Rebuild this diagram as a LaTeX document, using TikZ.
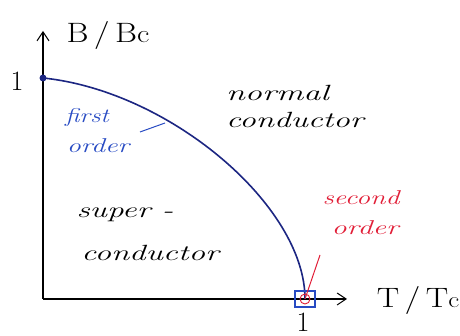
\documentclass[tikz,border=0pt]{standalone}
\usetikzlibrary{arrows.meta,calc}
\definecolor{curveblue}{RGB}{28,38,130}
\definecolor{penblue}{RGB}{40,75,195}
\definecolor{penred}{RGB}{225,30,55}
\tikzset{
  axis/.style={line width=1.1pt, -{Straight Barb[length=9pt,width=12pt,line width=1pt]}},
  hand/.style={font=\fontsize{22}{24}\selectfont\itshape, inner sep=0pt},
  print/.style={font=\fontsize{28}{30}\selectfont, inner sep=0pt},
  bluetxt/.style={hand, text=penblue, font=\fontsize{20}{22}\selectfont\itshape},
  redtxt/.style={hand, text=penred, font=\fontsize{20}{22}\selectfont\itshape},
}
\begin{document}
\begin{tikzpicture}[x=1pt,y=1pt]
\useasboundingbox (0,0) rectangle (460,336);
\coordinate (O) at (43,37);
\coordinate (ytop) at (43,305);
\coordinate (xend) at (347,37);
\coordinate (Bc) at (43,258);
\coordinate (Tc) at (305,37);
\draw[axis] (O) -- (ytop);
\draw[axis] (O) -- (xend);
\node[print] (blab) at (108,300) {\scalebox{1.2}[1]{B\,/\,B\scalebox{0.9}{c}}};
\node[print] (tlab) at (418,35) {\scalebox{1.2}[1]{T\,/\,T\scalebox{0.8}{c}}};
\node[print] (one1) at (17,255) {1};
\node[print] (one2) at (303,14) {1};
% phase boundary
\draw[curveblue, line width=1.6pt] (Bc) .. controls (170,245) and (305,130) .. (Tc);
\fill[curveblue] (Bc) circle (3.5pt);
\draw[penblue, line width=1.1pt] ($(Tc)+(-10,-8)$) rectangle ($(Tc)+(10,8)$);
\draw[penred, line width=0.9pt] (Tc) circle (5);
% labels
\node[hand, anchor=west] (normal) at (226,243) {\scalebox{1.55}[1]{normal}};
\node[hand, anchor=west] (cond1) at (226,216) {\scalebox{1.5}[1]{conductor}};
\node[hand] (super) at (125,121) {\scalebox{1.5}[1]{super -}};
\node[hand] (cond2) at (150,83) {\scalebox{1.5}[1]{conductor}};
\node[bluetxt] (first) at (87,218) {\scalebox{1.3}[1]{first}};
\node[bluetxt] (ord1) at (98,190) {\scalebox{1.4}[1]{order}};
\coordinate (bt1) at (140,204);
\coordinate (bt2) at (165,213);
\draw[penblue, line width=1pt] (bt1) -- (bt2);
\node[redtxt] (second) at (361,138) {\scalebox{1.4}[1]{second}};
\node[redtxt] (ord2) at (365,108) {\scalebox{1.5}[1]{order}};
\coordinate (rt) at (320,81);
\draw[penred, line width=1pt] (rt) -- (Tc);
\end{tikzpicture}
\end{document}
